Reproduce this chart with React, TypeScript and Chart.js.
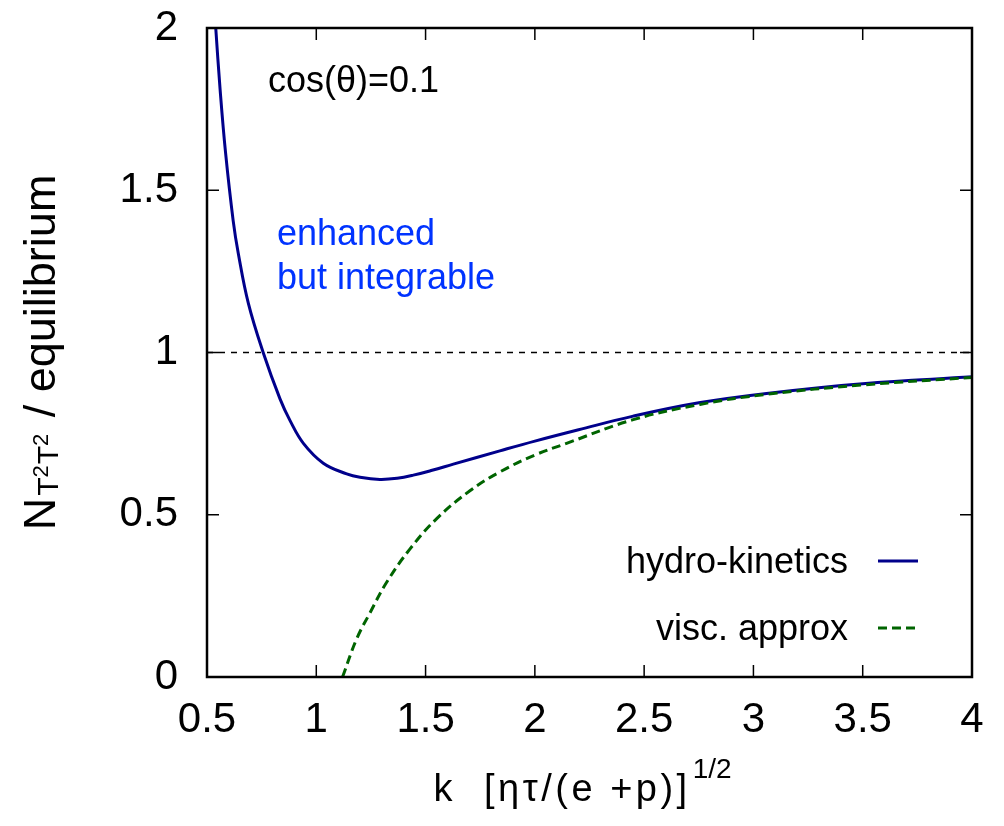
import React, { useEffect, useRef } from "react";
import { Chart, registerables } from "chart.js";

Chart.register(...registerables);

// ---- data ----
const kHydro = [0.54, 0.56, 0.585, 0.62, 0.643, 0.689, 0.757, 0.834, 0.88, 0.941, 1.032, 1.139, 1.2, 1.291, 1.37, 1.444, 1.53, 1.627, 1.84, 2.0, 2.2, 2.45, 2.75, 3.06, 3.5, 4.0];
const nHydro = [2.0, 1.81, 1.615, 1.405, 1.306, 1.152, 1.0, 0.857, 0.79, 0.72, 0.659, 0.626, 0.6155, 0.609, 0.6125, 0.622, 0.637, 0.656, 0.697, 0.727, 0.762, 0.804, 0.845, 0.874, 0.904, 0.925];

const kVisc = [1.12, 1.185, 1.246, 1.322, 1.429, 1.551, 1.703, 1.84, 2.0, 2.145, 2.45, 2.755, 3.06, 3.5, 4.0];
const nVisc = [0.0, 0.118, 0.198, 0.292, 0.395, 0.488, 0.574, 0.632, 0.684, 0.72, 0.793, 0.84, 0.871, 0.9, 0.923];

const kRef = [0.5, 4.0];
const nRef = [1.0, 1.0];

const xTicks = [0.5, 1, 1.5, 2, 2.5, 3, 3.5, 4];
const yTicks = [0, 0.5, 1, 1.5, 2];

const seriesLabels = ["hydro-kinetics", "visc. approx"];
const annotationText = "cos(\u03b8)=0.1";
const noteLines = ["enhanced", "but integrable"];

const FONT = '"Liberation Sans", Arial, Helvetica, sans-serif';

const zip = (xs: number[], ys: number[]) => xs.map((x, i) => ({ x, y: ys[i] }));

const overlayPlugin = {
  id: "overlay",
  afterDraw(chart: any) {
    const { ctx, chartArea: a, scales } = chart;
    const xs = scales.x;
    const ys = scales.y;
    ctx.save();

    // frame
    ctx.strokeStyle = "#000";
    ctx.lineWidth = 2.5;
    ctx.setLineDash([]);
    ctx.strokeRect(a.left, a.top, a.right - a.left, a.bottom - a.top);

    // inward ticks on all four sides
    ctx.lineWidth = 1.5;
    ctx.beginPath();
    const tl = 12;
    xs.ticks.forEach((t: any) => {
      const px = xs.getPixelForValue(t.value);
      ctx.moveTo(px, a.bottom);
      ctx.lineTo(px, a.bottom - tl);
      ctx.moveTo(px, a.top);
      ctx.lineTo(px, a.top + tl);
    });
    ys.ticks.forEach((t: any) => {
      const py = ys.getPixelForValue(t.value);
      ctx.moveTo(a.left, py);
      ctx.lineTo(a.left + tl, py);
      ctx.moveTo(a.right, py);
      ctx.lineTo(a.right - tl, py);
    });
    ctx.stroke();

    // annotations inside the plot
    ctx.fillStyle = "#000";
    ctx.font = `36px ${FONT}`;
    ctx.textAlign = "left";
    ctx.textBaseline = "alphabetic";
    ctx.fillText(annotationText, xs.getPixelForValue(0.779), ys.getPixelForValue(1.803));

    ctx.fillStyle = "#0033ff";
    ctx.fillText(noteLines[0], xs.getPixelForValue(0.82), ys.getPixelForValue(1.331));
    ctx.fillText(noteLines[1], xs.getPixelForValue(0.82), ys.getPixelForValue(1.196));

    // legend (inside, bottom right)
    const ds = chart.data.datasets;
    const textRight = a.right - 124;
    const rows = [a.bottom - 116, a.bottom - 49];
    [0, 1].forEach((i) => {
      const y = rows[i];
      ctx.fillStyle = "#000";
      ctx.textAlign = "right";
      ctx.font = `36px ${FONT}`;
      ctx.fillText(ds[i].label, textRight, y + 12);
      ctx.strokeStyle = ds[i].borderColor;
      ctx.lineWidth = ds[i].borderWidth;
      ctx.setLineDash(ds[i].borderDash || []);
      ctx.beginPath();
      ctx.moveTo(a.right - 94, y);
      ctx.lineTo(a.right - 54, y);
      ctx.stroke();
    });
    ctx.setLineDash([]);

    // x-axis title with superscript
    ctx.fillStyle = "#000";
    ctx.textAlign = "left";
    const mainX = "k  [\u03b7\u03c4/(e +p)]";
    const supX = "1/2";
    const ls = "3.5px";
    ctx.font = `38px ${FONT}`;
    (ctx as any).letterSpacing = ls;
    const wMain = ctx.measureText(mainX).width;
    ctx.font = `28px ${FONT}`;
    (ctx as any).letterSpacing = "0px";
    const wSup = ctx.measureText(supX).width;
    const cx = (a.left + a.right) / 2 - 7;
    const startX = cx - (wMain + 2 + wSup) / 2;
    const baseX = a.bottom + 124;
    ctx.font = `38px ${FONT}`;
    (ctx as any).letterSpacing = ls;
    ctx.fillText(mainX, startX, baseX);
    (ctx as any).letterSpacing = "0px";
    ctx.font = `28px ${FONT}`;
    ctx.fillText(supX, startX + wMain + 2, baseX - 23);

    // y-axis title with subscripts (rotated)
    const parts = [
      { t: "N", s: 45, dy: 0, gap: 2 },
      { t: "T", s: 30, dy: 3, gap: 0 },
      { t: "2", s: 22, dy: -7, gap: 1 },
      { t: "T", s: 30, dy: 3, gap: 0 },
      { t: "2", s: 22, dy: -7, gap: 4 },
      { t: " / equilibrium", s: 45, dy: 0, gap: 0 },
    ];
    let total = 0;
    const widths = parts.map((p) => {
      ctx.font = `${p.s}px ${FONT}`;
      const w = ctx.measureText(p.t).width + p.gap;
      total += w;
      return w;
    });
    const cy = (a.top + a.bottom) / 2;
    ctx.translate(55, cy + total / 2);
    ctx.rotate(-Math.PI / 2);
    let pos = 0;
    parts.forEach((p, i) => {
      ctx.font = `${p.s}px ${FONT}`;
      ctx.fillText(p.t, pos, p.dy);
      pos += widths[i];
    });

    ctx.restore();
  },
};

export default function App() {
  const canvasRef = useRef<HTMLCanvasElement | null>(null);

  useEffect(() => {
    const canvas = canvasRef.current;
    if (!canvas) return;
    const chart = new Chart(canvas, {
      type: "scatter",
      data: {
        datasets: [
          {
            label: seriesLabels[0],
            data: zip(kHydro, nHydro),
            showLine: true,
            borderColor: "#00008b",
            backgroundColor: "#00008b",
            borderWidth: 3,
            pointRadius: 0,
            tension: 0.4,
            order: 2,
          },
          {
            label: seriesLabels[1],
            data: zip(kVisc, nVisc),
            showLine: true,
            borderColor: "#006400",
            backgroundColor: "#006400",
            borderWidth: 3,
            borderDash: [9, 5],
            pointRadius: 0,
            tension: 0.4,
            order: 1,
          },
          {
            label: "",
            data: zip(kRef, nRef),
            showLine: true,
            borderColor: "#000",
            borderWidth: 1.5,
            borderDash: [6, 6],
            pointRadius: 0,
            order: 3,
          },
        ],
      } as any,
      options: {
        animation: false,
        responsive: false,
        devicePixelRatio: 1,
        layout: { padding: { top: 28, right: 32, left: 0, bottom: 0 } },
        plugins: {
          legend: { display: false },
          tooltip: { enabled: false },
          title: { display: false },
        },
        scales: {
          x: {
            type: "linear",
            min: 0.5,
            max: 4,
            afterBuildTicks: (s: any) => {
              s.ticks = xTicks.map((v) => ({ value: v }));
            },
            afterFit: (s: any) => {
              s.height = 149;
              s.paddingLeft = 0;
              s.paddingRight = 0;
            },
            ticks: {
              color: "#000",
              font: { size: 42, family: FONT },
              padding: 18,
              maxRotation: 0,
              autoSkip: false,
              callback: (v: any) => String(v),
            },
            grid: { display: false, drawTicks: false },
            border: { display: false },
          },
          y: {
            type: "linear",
            min: 0,
            max: 2,
            afterBuildTicks: (s: any) => {
              s.ticks = yTicks.map((v) => ({ value: v }));
            },
            afterFit: (s: any) => {
              s.width = 207;
              s.paddingTop = 0;
              s.paddingBottom = 0;
            },
            ticks: {
              color: "#000",
              font: { size: 42, family: FONT },
              padding: 29,
              autoSkip: false,
              callback: (v: any) => String(v),
            },
            grid: { display: false, drawTicks: false },
            border: { display: false },
          },
        },
      } as any,
      plugins: [overlayPlugin],
    });
    return () => chart.destroy();
  }, []);

  return (
    <div style={{ position: "absolute", left: 0, top: 0, width: 1004, height: 826, background: "#fff" }}>
      <canvas ref={canvasRef} width={1004} height={826} style={{ display: "block" }} />
    </div>
  );
}
